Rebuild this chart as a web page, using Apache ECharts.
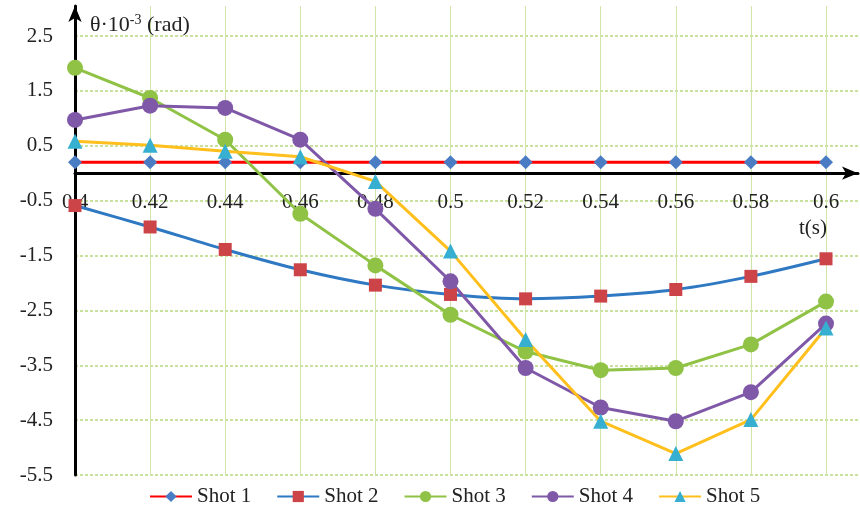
<!DOCTYPE html>
<html>
<head>
<meta charset="utf-8">
<script src="https://cdn.jsdelivr.net/npm/echarts@6/dist/echarts.min.js"></script>
<style>html,body{margin:0;padding:0;background:#fff}#c{width:860px;height:522px}</style>
</head>
<body>
<div id="c"></div>
<script>
// ---- data ----
const times = [0.4, 0.42, 0.44, 0.46, 0.48, 0.5, 0.52, 0.54, 0.56, 0.58, 0.6];
const shot1 = [0.2, 0.2, 0.2, 0.2, 0.2, 0.2, 0.2, 0.2, 0.2, 0.2, 0.2];
const shot2 = [-0.59, -0.98, -1.39, -1.76, -2.04, -2.21, -2.29, -2.24, -2.12, -1.88, -1.56];
const shot3 = [1.92, 1.37, 0.61, -0.74, -1.68, -2.58, -3.25, -3.59, -3.55, -3.12, -2.34];
const shot4 = [0.97, 1.23, 1.19, 0.61, -0.65, -1.97, -3.55, -4.27, -4.52, -3.99, -2.74];
const shot5 = [0.58, 0.51, 0.40, 0.30, -0.15, -1.42, -3.03, -4.52, -5.11, -4.49, -2.82];
const seriesNames = ['Shot 1', 'Shot 2', 'Shot 3', 'Shot 4', 'Shot 5'];
const yTicksMin = -5.5, yTicksMax = 2.5, yInterval = 1;
const xTicksMin = 0.4, xTicksMax = 0.6, xInterval = 0.02;

// ---- layout ----
const W = 860, H = 522;
const L = 75, B = 47;
const gridTopTicks = 36;   // pixel of y = 2.5
const gridRightTicks = 34; // pixel gap right of x = 0.6
const mainTop = 6, mainRight = 2;
const pxPerY = (H - gridTopTicks - B) / (yTicksMax - yTicksMin);
const pxPerX = (W - L - gridRightTicks) / (xTicksMax - xTicksMin);
const yMaxMain = yTicksMin + (H - mainTop - B) / pxPerY;
const xMaxMain = xTicksMin + (W - L - mainRight) / pxPerX;
const zeroPx = H - B - (0 - yTicksMin) * pxPerY; // pixel row of y = 0

const font = 'Liberation Serif, Times New Roman, serif';
const pairs = arr => times.map((t, i) => [t, arr[i]]);

const chart = echarts.init(document.getElementById('c'), null, {renderer: 'canvas'});
chart.setOption({
  animation: false,
  backgroundColor: '#fff',
  textStyle: {fontFamily: font},
  grid: [
    {left: L, right: mainRight, top: mainTop, bottom: B},
    {left: L, right: gridRightTicks, top: mainTop, bottom: B},
    {left: L, right: 0, top: gridTopTicks, bottom: B},
    {left: L, right: gridRightTicks, top: mainTop, bottom: H - zeroPx}
  ],
  xAxis: [
    {
      gridIndex: 0, type: 'value', min: xTicksMin, max: xMaxMain, interval: xInterval,
      axisLine: {onZero: true, lineStyle: {color: '#000', width: 3}, symbol: ['none', 'arrow'], symbolSize: [10, 16]},
      axisTick: {show: false},
      splitLine: {show: false},
      axisLabel: {show: false},
      name: 't(s)', nameLocation: 'end', nameGap: -31,
      nameTextStyle: {fontSize: 21, color: '#222', fontFamily: font, align: 'right', verticalAlign: 'top', padding: [45, 0, 0, 0]}
    },
    {
      gridIndex: 1, type: 'value', min: xTicksMin, max: xTicksMax, interval: xInterval,
      axisLine: {show: false}, axisTick: {show: false}, axisLabel: {show: false},
      splitLine: {show: true, lineStyle: {color: '#cfe6a8', width: 1}}
    },
    {
      gridIndex: 2, type: 'value', min: 0, max: 1, show: false, splitLine: {show: false}
    },
    {
      gridIndex: 3, type: 'value', min: xTicksMin, max: xTicksMax, interval: xInterval,
      axisLine: {show: false, onZero: false}, axisTick: {show: false}, splitLine: {show: false},
      axisLabel: {margin: 19, fontSize: 21, color: '#222', fontFamily: font,
        formatter: v => String(+v.toFixed(2))}
    }
  ],
  yAxis: [
    {
      gridIndex: 0, type: 'value', min: yTicksMin, max: yMaxMain, interval: yInterval,
      axisLine: {onZero: false, lineStyle: {color: '#000', width: 3}, symbol: ['none', 'arrow'], symbolSize: [10, 16]},
      axisTick: {show: false},
      splitLine: {show: false},
      axisLabel: {
        margin: 22, fontSize: 21, color: '#222', fontFamily: font,
        formatter: v => (v > yTicksMax + 1e-6 ? '' : v.toFixed(1))
      },
      name: '{a|θ·10}{s|-3}{a| (rad)}', nameLocation: 'end', nameGap: -19,
      nameTextStyle: {
        align: 'left', verticalAlign: 'middle', padding: [0, 0, 0, 15],
        rich: {
          a: {fontSize: 22, color: '#222', fontFamily: font},
          s: {fontSize: 14, color: '#222', fontFamily: font, padding: [0, 0, 10, 0]}
        }
      }
    },
    {
      gridIndex: 1, type: 'value', min: yTicksMin, max: yMaxMain, show: false, splitLine: {show: false}
    },
    {
      gridIndex: 2, type: 'value', min: yTicksMin, max: yTicksMax, interval: yInterval,
      axisLine: {show: false}, axisTick: {show: false}, axisLabel: {show: false},
      splitLine: {show: true, lineStyle: {color: '#b6d77e', width: 1.5, type: [3, 2]}}
    },
    {
      gridIndex: 3, type: 'value', min: 0, max: 1, show: false, splitLine: {show: false}
    }
  ],
  legend: {
    data: seriesNames,
    left: 144, top: 481,
    itemWidth: 42, itemHeight: 14, itemGap: 25,
    textStyle: {fontSize: 21, color: '#222', fontFamily: font}
  },
  series: [
    {name: seriesNames[0], type: 'line', data: pairs(shot1), symbol: 'diamond', symbolSize: 14,
     lineStyle: {color: '#ff0000', width: 3}, itemStyle: {color: '#4a7cc4'}},
    {name: seriesNames[1], type: 'line', data: pairs(shot2), symbol: 'rect', symbolSize: 13, smooth: 0.3,
     lineStyle: {color: '#2f78c2', width: 3}, itemStyle: {color: '#cc4448'}},
    {name: seriesNames[2], type: 'line', data: pairs(shot3), symbol: 'circle', symbolSize: 16,
     lineStyle: {color: '#8fc245', width: 3}, itemStyle: {color: '#8fc245'}},
    {name: seriesNames[3], type: 'line', data: pairs(shot4), symbol: 'circle', symbolSize: 16,
     lineStyle: {color: '#7f58a8', width: 3}, itemStyle: {color: '#7f58a8'}},
    {name: seriesNames[4], type: 'line', data: pairs(shot5), symbol: 'triangle', symbolSize: 15,
     lineStyle: {color: '#ffbf1c', width: 3}, itemStyle: {color: '#36afd0'}}
  ]
});
</script>
</body>
</html>
